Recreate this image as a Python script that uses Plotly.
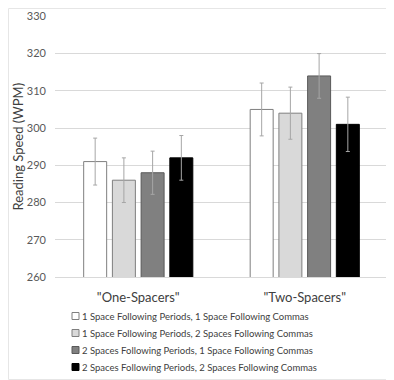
import plotly.graph_objects as go

categories = ['"One-Spacers"', '"Two-Spacers"']
series_names = [
    "1 Space Following Periods, 1 Space Following Commas",
    "1 Space Following Periods, 2 Spaces Following Commas",
    "2 Spaces Following Periods, 1 Space Following Commas",
    "2 Spaces Following Periods, 2 Spaces Following Commas",
]
s1 = [291, 305]
s2 = [286, 304]
s3 = [288, 314]
s4 = [292, 301]
e1 = [6.3, 7.1]
e2 = [6.0, 7.0]
e3 = [5.8, 6.0]
e4 = [6.0, 7.3]
y_ticks = [260, 270, 280, 290, 300, 310, 320, 330]

fills = ["#ffffff", "#d9d9d9", "#808080", "#000000"]
lines = ["#7f7f7f", "#7f7f7f", "#595959", "#000000"]

# page body has an 8px margin; size the figure to the visible area
OFF = 8
W, H = 394 - OFF, 380 - OFF
L, R, T, B = 55 - OFF, 394 - 388, 16 - OFF, 380 - 277
PW, PH = W - L - R, H - T - B

def px(xp):  # reference-image x -> paper
    return (xp - OFF - L) / PW

def py(yp):  # reference-image y -> paper
    return (H - B - (yp - OFF)) / PH

fig = go.Figure()
for name, vals, errs, fc, lc in zip(series_names, [s1, s2, s3, s4], [e1, e2, e3, e4], fills, lines):
    fig.add_trace(go.Bar(
        x=categories, y=vals, name=name, showlegend=False,
        marker=dict(color=fc, line=dict(color=lc, width=1)),
        error_y=dict(type="data", array=errs, visible=True, color="#a6a6a6", thickness=1, width=2),
    ))

# manual legend
row_y = [316, 333, 350, 367]
for name, fc, lc, yc in zip(series_names, fills, lines, row_y):
    fig.add_shape(type="rect", xref="paper", yref="paper",
                  x0=px(72), x1=px(79), y0=py(yc + 3.5), y1=py(yc - 3.5),
                  fillcolor=fc, line=dict(color=lc, width=1))
    fig.add_annotation(text=name, xref="paper", yref="paper", x=px(80), y=py(yc),
                       xanchor="left", yanchor="middle", showarrow=False,
                       font=dict(size=9.5, color="#404040"))

# y-axis title as annotation
fig.add_annotation(text="Reading Speed (WPM)", xref="paper", yref="paper",
                   x=px(17.5), y=py(147), textangle=-90, showarrow=False,
                   xanchor="center", yanchor="middle",
                   font=dict(size=13, color="#404040"))

fig.update_layout(
    width=W, height=H,
    margin=dict(l=L, r=R, t=T, b=B, autoexpand=False),
    paper_bgcolor="white", plot_bgcolor="white",
    font=dict(family="Lato, Open Sans, sans-serif", color="#404040"),
    barmode="group", bargap=0.31, bargroupgap=0.2,
    xaxis=dict(showline=True, linecolor="#d9d9d9", ticks="", automargin=False,
               tickfont=dict(size=13, color="#404040"), ticklabelstandoff=8),
    yaxis=dict(
        range=[260, 330.1], tickvals=y_ticks, showgrid=True, gridcolor="#d9d9d9",
        zeroline=False, ticks="", automargin=False, ticklabelstandoff=8,
        ticklabeloverflow="allow",
        tickfont=dict(size=11, color="#595959"),
    ),
)
fig.add_shape(type="rect", xref="paper", yref="paper",
              x0=px(8.5), x1=px(393.5), y0=py(379.5), y1=py(8.5),
              line=dict(color="#e6e6e6", width=1), fillcolor="rgba(0,0,0,0)", layer="below")

fig.write_html("out.html")
